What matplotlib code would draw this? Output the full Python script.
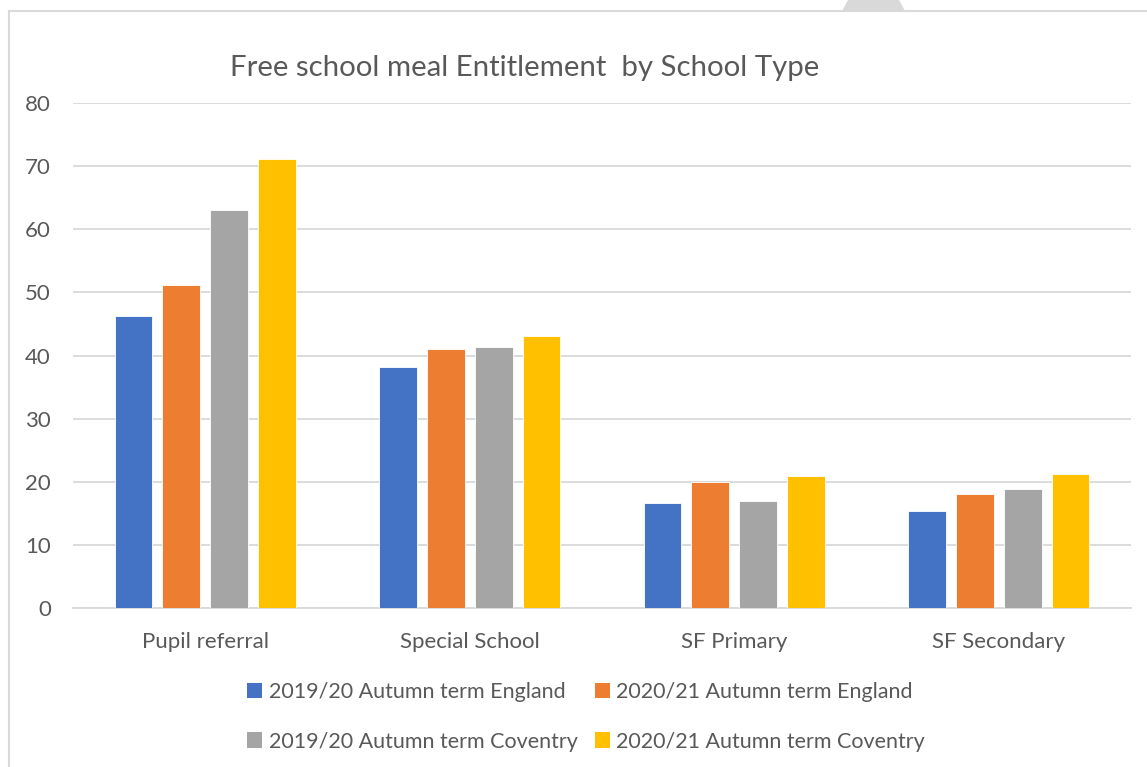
import matplotlib
matplotlib.use("Agg")
import matplotlib.pyplot as plt
import numpy as np
from matplotlib.patches import Polygon, Patch
from matplotlib.lines import Line2D

categories = ["Pupil referral", "Special School", "SF Primary", "SF Secondary"]
series_names = [
    "2019/20 Autumn term England",
    "2020/21 Autumn term England",
    "2019/20 Autumn term Coventry",
    "2020/21 Autumn term Coventry",
]
england_1920 = [46.2, 38.2, 16.6, 15.3]
england_2021 = [51.1, 41.0, 20.0, 18.1]
coventry_1920 = [63.1, 41.3, 16.9, 18.8]
coventry_2021 = [71.1, 43.1, 20.9, 21.2]
yticks = [0, 10, 20, 30, 40, 50, 60, 70, 80]

colors = ["#4472C4", "#ED7D31", "#A5A5A5", "#FFC000"]
text_color = "#595959"
font = ["Lato", "DejaVu Sans"]
plt.rcParams["font.family"] = font

W, H = 1147, 767
fig = plt.figure(figsize=(W / 100, H / 100), dpi=100)
ax = fig.add_axes([73 / W, 1 - 608 / H, (1131 - 73) / W, (608 - 103) / H])

x = np.arange(len(categories))
pitch = 0.181
width = 0.143
all_series = [england_1920, england_2021, coventry_1920, coventry_2021]
for i, (vals, col) in enumerate(zip(all_series, colors)):
    ax.bar(x + (i - 1.5) * pitch, vals, width=width, color=col, zorder=3,
           edgecolor="white", linewidth=0.6)

ax.set_xlim(-0.5, len(categories) - 0.5)
ax.set_ylim(0, 80)
ax.set_yticks(yticks)
ax.set_yticklabels([str(t) for t in yticks])
ax.set_xticks(x)
ax.set_xticklabels(categories)
ax.yaxis.grid(True, color="#D9D9D9", linewidth=1.3, zorder=0)
ax.set_axisbelow(True)
for s in ["top", "right", "left"]:
    ax.spines[s].set_visible(False)
ax.spines["bottom"].set_color("#D9D9D9")
ax.spines["bottom"].set_linewidth(1.3)
ax.tick_params(axis="both", length=0, labelsize=16, colors=text_color)
ax.tick_params(axis="y", pad=16)
ax.tick_params(axis="x", pad=17)

fig.text(525 / W, 1 - 68 / H, "Free school meal Entitlement  by School Type",
         ha="center", va="center", fontsize=21.2, color=text_color)

# legend filled column by column, so reorder to read row by row
order = [0, 2, 1, 3]
handles = [Patch(facecolor=colors[i], edgecolor="none") for i in order]
labels = [series_names[i] for i in order]
fig.legend(handles, labels, ncol=2, loc="center",
           bbox_to_anchor=(586 / W, 1 - 717 / H), frameon=False,
           fontsize=15.5, labelcolor=text_color, handlelength=0.7,
           handleheight=0.7, handletextpad=0.3, columnspacing=0.8,
           labelspacing=1.35)

# chart frame and shape clipped at the top edge
fig.add_artist(Line2D([9 / W, 9 / W], [0, 1 - 11 / H], transform=fig.transFigure,
                      color="#D9D9D9", linewidth=1.5))
fig.add_artist(Line2D([9 / W, 1], [1 - 11 / H, 1 - 11 / H], transform=fig.transFigure,
                      color="#D9D9D9", linewidth=1.5))
fig.add_artist(Polygon([[842 / W, 1 - 11 / H], [848 / W, 1], [899 / W, 1],
                        [905 / W, 1 - 11 / H]], closed=True,
                       transform=fig.transFigure, facecolor="#D9D9D9",
                       edgecolor="none"))

fig.savefig("out.png", dpi=100, facecolor="white")
